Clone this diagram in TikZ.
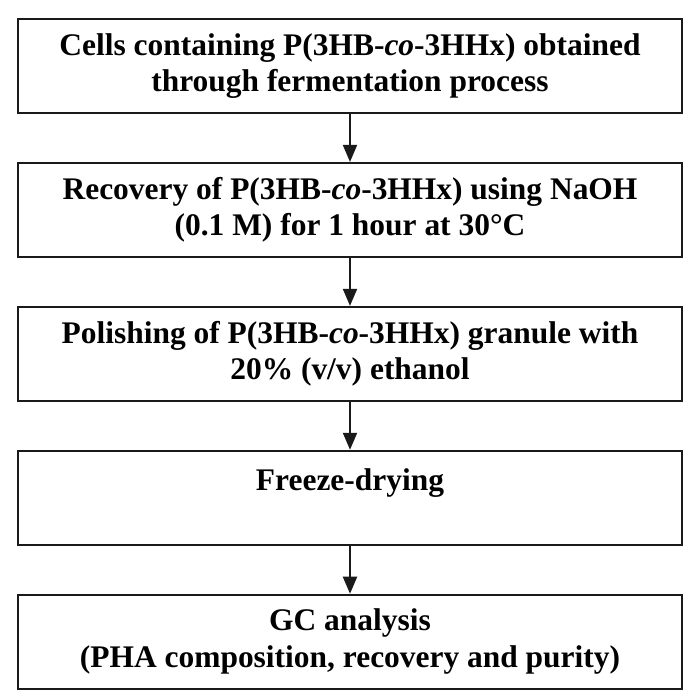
\documentclass[tikz,border=0pt]{standalone}
\usepackage{fontspec}
\setmainfont{Liberation Serif}
\usetikzlibrary{arrows.meta,positioning}
\definecolor{FLine}{HTML}{1A1A1A}

\begin{document}
\begin{tikzpicture}[
  node distance=0.96cm,
  every node/.style={font=\fontsize{17.9}{20.8}\selectfont\bfseries},
  stage/.style={draw=FLine,line width=1.1pt,minimum width=13.28cm,
    minimum height=1.88cm,inner sep=0pt,align=center,
    execute at begin node=\rule{0pt}{0.59cm}},
  onerow/.style={text height=0.4cm,text depth=0.68cm},
  a/.style={-{Triangle[length=0.34cm,width=0.28cm]},line width=1.1pt,color=FLine}
]
  \useasboundingbox (0,0) rectangle (14,-14);
  \node[stage,anchor=north] (cells) at (7,-0.36)
    {Cells containing P(3HB-\textit{co}-3HHx) obtained\\through fermentation process};
  \node[stage,below=of cells] (recov)
    {Recovery of P(3HB-\textit{co}-3HHx) using NaOH\\(0.1 M) for 1 hour at 30°C};
  \node[stage,below=of recov] (polish)
    {Polishing of P(3HB-\textit{co}-3HHx) granule with\\20\% (v/v) ethanol};
  \node[stage,onerow,below=of polish] (freeze) {Freeze-drying};
  \node[stage,below=of freeze] (gc)
    {GC analysis\\(PHA composition, recovery and purity)};
  \draw[a] (cells) -- (recov);
  \draw[a] (recov) -- (polish);
  \draw[a] (polish) -- (freeze);
  \draw[a] (freeze) -- (gc);
\end{tikzpicture}
\end{document}
